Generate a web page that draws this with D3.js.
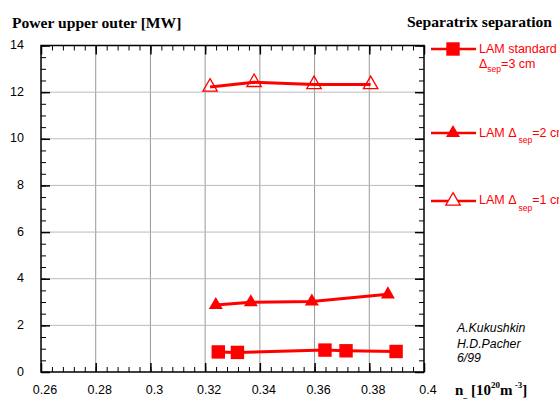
<!DOCTYPE html>
<html><head><meta charset="utf-8">
<script src="https://cdn.jsdelivr.net/npm/d3@7"></script>
<style>body{margin:0;background:#fff}svg{display:block}</style>
</head><body>
<svg id="c" width="559" height="401"></svg>
<script>
const xTicks = [0.26,0.28,0.30,0.32,0.34,0.36,0.38,0.40];
const xTickLabels = ["0.26","0.28","0.3","0.32","0.34","0.36","0.38","0.4"];
const yTicks = [0,2,4,6,8,10,12,14];
const stdX = [0.3248,0.3318,0.3638,0.3715,0.3898];
const stdY = [0.86,0.84,0.94,0.91,0.88];
const lam2X = [0.3239,0.3367,0.3590,0.3868];
const lam2Y = [2.87,2.99,3.02,3.33];
const lam1X = [0.3218,0.3379,0.3598,0.3805];
const lam1Y = [12.22,12.42,12.33,12.33];

(function(){
const svg = d3.select("#c");
const red = "#ff0000";
const x = d3.scaleLinear().domain([0.26,0.40]).range([41,424]);
const y = d3.scaleLinear().domain([0,14]).range([372,45.5]);

// grid
svg.append("g").selectAll("line").data(xTicks.slice(1,-1)).join("line")
  .attr("x1",d=>x(d)).attr("x2",d=>x(d)).attr("y1",y(0)).attr("y2",y(14))
  .attr("stroke","#999").attr("stroke-width",1);
svg.append("g").selectAll("line").data(yTicks.slice(1,-1)).join("line")
  .attr("x1",x(0.26)).attr("x2",x(0.40)).attr("y1",d=>y(d)).attr("y2",d=>y(d))
  .attr("stroke","#bbb").attr("stroke-width",1);

// axes box
svg.append("rect").attr("x",x(0.26)).attr("y",y(14)).attr("width",x(0.40)-x(0.26)).attr("height",y(0)-y(14))
  .attr("fill","none").attr("stroke","#000").attr("stroke-width",1.5);

const xMinor = d3.range(0,36).map(i=>0.26+i*0.004);
const yMinor = d3.range(0,29).map(i=>i*0.5);
function ticks(vals, size, sw){
  const defs = [
    [d3.axisBottom(x), `translate(0,${y(0)})`],
    [d3.axisTop(x), `translate(0,${y(14)})`],
    [d3.axisLeft(y), `translate(${x(0.26)},0)`],
    [d3.axisRight(y), `translate(${x(0.40)},0)`]
  ];
  defs.forEach(([a,t],i)=>{
    a.tickValues(i<2?vals[0]:vals[1]).tickSize(-size).tickFormat("");
    const g = svg.append("g").attr("transform",t).call(a);
    g.select(".domain").remove();
    g.selectAll("line").attr("stroke","#000").attr("stroke-width",sw);
  });
}
ticks([xMinor,yMinor],5,1);
ticks([xTicks,yTicks],9,1.5);

const sans = "Liberation Sans, Arial, sans-serif";
// tick labels
svg.append("g").selectAll("text").data(xTicks).join("text")
  .attr("x",d=>x(d)+4).attr("y",394).attr("text-anchor","middle")
  .attr("font-family",sans).attr("font-size",12.5)
  .text((d,i)=>xTickLabels[i]);
svg.append("g").selectAll("text").data(yTicks).join("text")
  .attr("x",24).attr("y",d=>y(d)+3.5).attr("text-anchor","end")
  .attr("font-family",sans).attr("font-size",12.5)
  .text(d=>d);

// titles
const serif = "Liberation Serif, Times New Roman, serif";
svg.append("text").attr("x",12).attr("y",28).attr("font-family",serif)
  .attr("font-weight","bold").attr("font-size",15.6).text("Power upper outer [MW]");
svg.append("text").attr("x",552).attr("y",27).attr("text-anchor","end").attr("font-family",serif)
  .attr("font-weight","bold").attr("font-size",15.6).text("Separatrix separation");
const xl = svg.append("text").attr("x",455).attr("y",395).attr("font-family",serif)
  .attr("font-weight","bold").attr("font-size",15);
xl.append("tspan").text("n");
xl.append("tspan").attr("font-size",8).attr("dy",3).text("_");
xl.append("tspan").attr("dy",-3).text(" [10");
xl.append("tspan").attr("font-size",9).attr("dy",-7).text("20");
xl.append("tspan").attr("dy",7).text("m");
xl.append("tspan").attr("font-size",9).attr("dy",-7).text(" -3");
xl.append("tspan").attr("dy",7).text("]");

// annotation
["A.Kukushkin","H.D.Pacher","6/99"].forEach((t,i)=>{
  svg.append("text").attr("x",457).attr("y",[332,348,362][i]).attr("font-family",sans)
    .attr("font-style","italic").attr("font-size",12.3).text(t);
});

// series
const line = d3.line().x(d=>x(d[0])).y(d=>y(d[1]));
function drawLine(xs,ys){
  svg.append("path").datum(xs.map((v,i)=>[v,ys[i]])).attr("d",line)
    .attr("fill","none").attr("stroke",red).attr("stroke-width",3);
}
drawLine(stdX,stdY); drawLine(lam2X,lam2Y); drawLine(lam1X,lam1Y);
const sq = d3.symbol().type(d3.symbolSquare).size(180);
const tri = d3.symbol().type(d3.symbolTriangle).size(85);
const otri = d3.symbol().type(d3.symbolTriangle).size(90);
function markers(xs,ys,sym,filled){
  svg.append("g").selectAll("path").data(xs.map((v,i)=>[v,ys[i]])).join("path")
    .attr("transform",d=>`translate(${x(d[0])},${y(d[1])})`).attr("d",sym)
    .attr("fill",filled?red:"none").attr("stroke",red).attr("stroke-width",filled?0:1.3);
}
markers(stdX,stdY,sq,true);
markers(lam2X,lam2Y,tri,true);
markers(lam1X,lam1Y,otri,false);

// legend
const leg = [{y:49,sym:sq,filled:true},{y:133,sym:tri,filled:true},{y:201,sym:otri,filled:false}];
leg.forEach(l=>{
  svg.append("line").attr("x1",431).attr("x2",476).attr("y1",l.y).attr("y2",l.y).attr("stroke",red).attr("stroke-width",2.5);
  svg.append("path").attr("transform",`translate(453,${l.y})`).attr("d",l.sym)
    .attr("fill",l.filled?red:"#fff").attr("stroke",red).attr("stroke-width",l.filled?0:1.3);
});
const lf = sans, fs = 12.5;
svg.append("text").attr("x",479).attr("y",52.5).attr("fill",red).attr("font-family",lf).attr("font-size",fs).text("LAM standard");
const t3 = svg.append("text").attr("x",479).attr("y",68).attr("fill",red).attr("font-family",lf).attr("font-size",fs);
t3.append("tspan").text("Δ"); t3.append("tspan").attr("font-size",8.5).attr("dy",4).text("sep"); t3.append("tspan").attr("dy",-4).text("=3 cm");
[[136.5,"=2 cm"],[204,"=1 cm"]].forEach(([yy,s])=>{
  const tt = svg.append("text").attr("x",479).attr("y",yy).attr("fill",red).attr("font-family",lf).attr("font-size",fs);
  tt.append("tspan").text("LAM Δ");
  tt.append("tspan").attr("font-size",8.5).attr("dx",2).attr("dy",6.5).text("sep");
  tt.append("tspan").attr("dy",-6.5).text(s);
});
})();
</script>
</body></html>
